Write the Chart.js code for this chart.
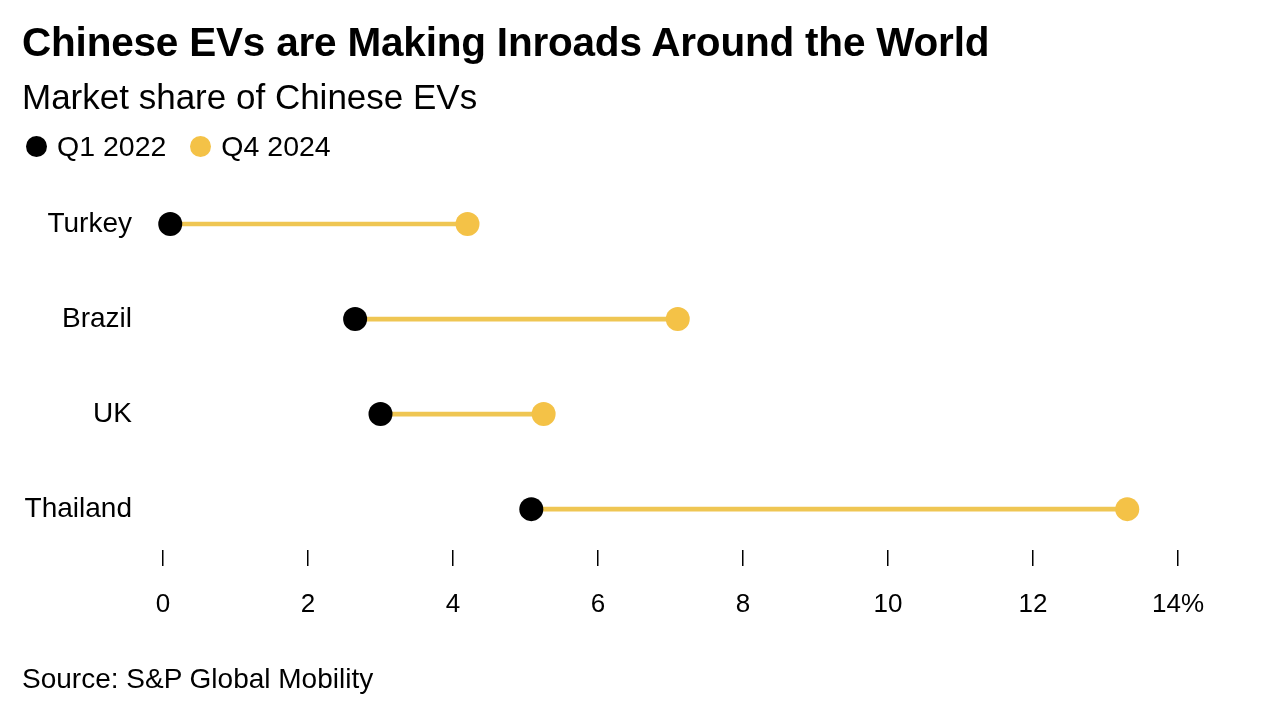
<!DOCTYPE html>
<html>
<head>
<meta charset="utf-8">
<script src="https://cdn.jsdelivr.net/npm/chart.js@4.4.1/dist/chart.umd.min.js"></script>
<style>
    body { margin: 0; background: #fff; font-family: "Liberation Sans", Arial, sans-serif; color: #000; }
    #wrap { position: relative; width: 1280px; height: 724px; overflow: hidden; }
    #chart { position: absolute; left: 0; top: 0; }
    .txt { position: absolute; left: 22px; white-space: nowrap; }
    #title { top: 19px; font-size: 40.5px; font-weight: bold; letter-spacing: -0.2px; }
    #subtitle { top: 77px; font-size: 35px; }
    #legend { top: 130px; font-size: 28.5px; }
    #legend span.dot { display: inline-block; width: 21px; height: 21px; border-radius: 50%; vertical-align: -1px; margin-right: 10px; }
    #legend span.item { margin-right: 24px; }
    #source { top: 663px; font-size: 28px; }
</style>
</head>
<body>
<div id="wrap">
    <canvas id="chart" width="1280" height="724"></canvas>
    <div class="txt" id="title">Chinese EVs are Making Inroads Around the World</div>
    <div class="txt" id="subtitle">Market share of Chinese EVs</div>
    <div class="txt" id="legend"><span class="item"><span class="dot" style="background:#000;margin-left:4px"></span>Q1 2022</span><span class="item"><span class="dot" style="background:#F4C247"></span>Q4 2024</span></div>
    <div class="txt" id="source">Source: S&amp;P Global Mobility</div>
</div>
<script>
// data (market share, %)
var countries = ['Turkey', 'Brazil', 'UK', 'Thailand'];
var q1_2022 = [0.1, 2.65, 3.0, 5.08];
var q4_2024 = [4.2, 7.1, 5.25, 13.3];
var xTicks = [0, 2, 4, 6, 8, 10, 12, 14];

var yellow = '#F4C247';

// build the datasets from the arrays
var rangeData = [];
var q1Points = [];
var q4Points = [];
countries.forEach(function(c, i) {
    rangeData.push({ x: [q1_2022[i], q4_2024[i]], y: i });
    q1Points.push({ x: q1_2022[i], y: i });
    q4Points.push({ x: q4_2024[i], y: i });
});

var ctx = document.getElementById('chart').getContext('2d');
var myChart = new Chart(ctx, {
    type: 'bar',
    data: {
        datasets: [{
            type: 'bar',
            indexAxis: 'y',
            data: rangeData,
            backgroundColor: '#EFC653',
            barThickness: 4,
            borderSkipped: false,
            clip: false,
            order: 3
        }, {
            type: 'scatter',
            label: 'Q4 2024',
            data: q4Points,
            pointRadius: 12,
            pointHoverRadius: 12,
            pointBackgroundColor: yellow,
            pointBorderWidth: 0,
            clip: false,
            order: 2
        }, {
            type: 'scatter',
            label: 'Q1 2022',
            data: q1Points,
            pointRadius: 12,
            pointHoverRadius: 12,
            pointBackgroundColor: '#000',
            pointBorderWidth: 0,
            clip: false,
            order: 1
        }]
    },
    options: {
        responsive: false,
        animation: false,
        devicePixelRatio: 1,
        layout: { padding: { left: 0, right: 102, top: 176.5, bottom: 94 } },
        plugins: { legend: { display: false }, tooltip: { enabled: false } },
        scales: {
            x: {
                type: 'linear',
                offset: false,
                min: 0,
                max: 14,
                afterBuildTicks: function(scale) {
                    scale.ticks = xTicks.map(function(v) { return { value: v }; });
                },
                afterFit: function(scale) { scale.height = 80; },
                grid: { offset: false, drawOnChartArea: false, drawTicks: true, tickLength: 16, color: '#000', lineWidth: 1.5 },
                border: { display: false },
                ticks: {
                    color: '#000',
                    padding: 23,
                    maxRotation: 0,
                    autoSkip: false,
                    font: { family: 'Liberation Sans', size: 26 },
                    callback: function(value) {
                        return value === 14 ? value + '%' : value;
                    }
                }
            },
            y: {
                type: 'linear',
                offset: false,
                reverse: true,
                min: -0.5,
                max: 3.43,
                afterBuildTicks: function(scale) {
                    scale.ticks = countries.map(function(c, i) { return { value: i }; });
                },
                afterFit: function(scale) { scale.width = 163; },
                grid: { offset: false, display: false, drawTicks: false },
                border: { display: false },
                ticks: {
                    color: '#000',
                    padding: 31,
                    font: { family: 'Liberation Sans', size: 28 },
                    callback: function(value) {
                        return countries[value];
                    }
                }
            }
        }
    }
});
</script>
</body>
</html>
